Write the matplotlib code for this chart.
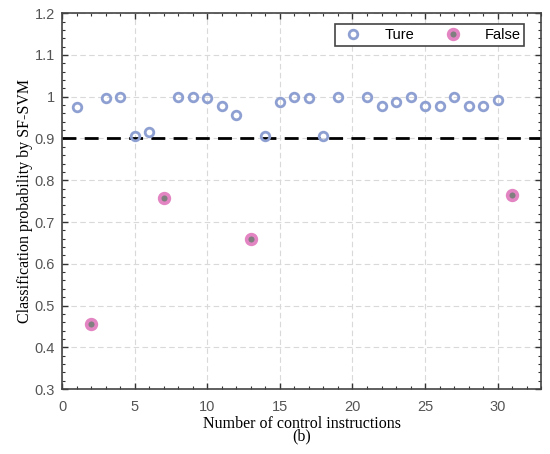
import matplotlib.pyplot as plt
from matplotlib.ticker import MultipleLocator

# --- data ---
true_x = [1, 3, 4, 5, 6, 8, 9, 10, 11, 12, 14, 15, 16, 17, 18, 19,
          21, 22, 23, 24, 25, 26, 27, 28, 29, 30]
true_y = [0.975, 0.998, 1.0, 0.905, 0.915, 1.0, 1.0, 0.998, 0.977, 0.957,
          0.905, 0.988, 1.0, 0.998, 0.905, 1.0,
          1.0, 0.977, 0.988, 1.0, 0.978, 0.977, 1.0, 0.977, 0.977, 0.993]
false_x = [2, 7, 13, 31]
false_y = [0.457, 0.757, 0.659, 0.765]
threshold = 0.9

plt.rcParams['font.family'] = 'Liberation Sans'

fig = plt.figure(figsize=(5.5, 4.54), dpi=100)
ax = fig.add_axes([0.113, 0.143, 0.871, 0.828])

ax.grid(True, color='#d9d9d9', linestyle=(0, (5, 3)), linewidth=0.8)
ax.set_axisbelow(True)

ax.axhline(threshold, color='black', linestyle=(0, (5, 3)), linewidth=2, zorder=2)

ax.plot(true_x, true_y, 'o', linestyle='none', markersize=6.2,
        markerfacecolor='none', markeredgecolor='#8e9fd1', markeredgewidth=2,
        label='Ture', zorder=3)
ax.plot(false_x, false_y, 'o', linestyle='none', markersize=7,
        markerfacecolor='#7f7f7f', markeredgecolor='#e384c3', markeredgewidth=2.6,
        label='False', zorder=3)

ax.set_xlim(0, 33)
ax.set_ylim(0.3, 1.2)
ax.xaxis.set_major_locator(MultipleLocator(5))
ax.xaxis.set_minor_locator(MultipleLocator(1))
ax.yaxis.set_minor_locator(MultipleLocator(0.02))
ax.set_yticks([0.3, 0.4, 0.5, 0.6, 0.7, 0.8, 0.9, 1.0, 1.1, 1.2])
ax.set_yticklabels(['0.3', '0.4', '0.5', '0.6', '0.7', '0.8', '0.9', '1', '1.1', '1.2'])

ax.tick_params(which='both', direction='in', top=True, right=True,
               labelsize=10.5, labelcolor='#555555', color='#333333')
ax.tick_params(which='major', length=4, width=1)
ax.tick_params(axis='x', which='major', pad=8)
ax.tick_params(axis='y', which='major', pad=5)
ax.tick_params(which='minor', length=2.5, width=0.8)
for s in ax.spines.values():
    s.set_color('#444444')
    s.set_linewidth(1.2)

ax.set_xlabel('Number of control instructions\n(b)', family='Liberation Serif',
              fontsize=11.5, labelpad=1, linespacing=0.7)
ax.set_ylabel('Classification probability by SF-SVM', family='Liberation Serif',
              fontsize=11.5, labelpad=1)

leg = ax.legend(loc='upper right', ncol=2, fontsize=10.5, frameon=True, fancybox=False,
                edgecolor='#444444', framealpha=1, columnspacing=1.6,
                handletextpad=1.2, borderpad=0.25, bbox_to_anchor=(0.98, 0.99))
leg.get_frame().set_linewidth(1.2)

plt.savefig('out.png', dpi=100)
